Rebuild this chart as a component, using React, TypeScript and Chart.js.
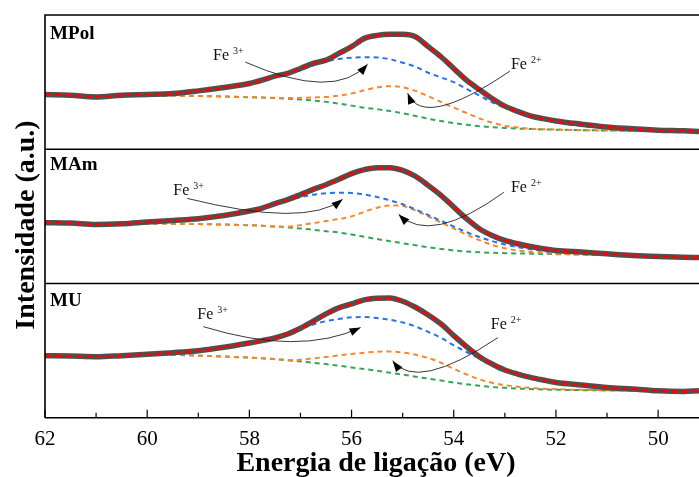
import React, { useEffect, useRef } from 'react';
import { Chart, registerables } from 'chart.js';

Chart.register(...registerables);

// Binding energy grid (eV)
const energy = [62, 61.5, 61, 60.5, 60, 59.5, 59, 58.5, 58, 57.75, 57.5, 57.25, 57, 56.75, 56.5, 56.25, 56, 55.75, 55.5, 55.25, 55, 54.75, 54.5, 54.25, 54, 53.75, 53.5, 53.25, 53, 52.75, 52.5, 52.25, 52, 51.5, 51, 50.5, 50, 49.5, 49.2];

// MPol
const mpolEnvelope = [40.8, 40.3, 39, 40.3, 40.8, 41.5, 43.5, 46, 49, 51.5, 54.5, 56.5, 60.2, 64, 66.4, 71.4, 76.4, 82.6, 84.8, 85.6, 85.6, 83.8, 76.4, 68.9, 60.2, 51.5, 44.5, 37.8, 32.1, 28.2, 24.9, 22.8, 21.1, 18.7, 16.6, 15.2, 14.2, 13.7, 13.2];
const mpolFe3 = [40.8, 40.3, 39, 40.3, 40.8, 41.5, 43.5, 46, 49, 51.5, 54.5, 56.3, 59, 62.5, 65.5, 67.3, 68.2, 68.6, 68.4, 67, 64.5, 61.5, 57, 53.5, 50, 45, 40, 35, 31, 27.5, 24.3, 22, 20.3, 17.2, 16.2, 15.2, 14.2, 13.7, 13.2];
const mpolFe2 = [40.8, 40.5, 40.3, 40.3, 40.2, 40, 39.7, 39.3, 38.8, 38.5, 38.3, 38.2, 38.3, 38.6, 39, 40, 41.5, 44, 46, 47, 46.2, 43.5, 39.5, 35.3, 31, 27, 23, 19.8, 17.5, 16.2, 15.4, 15, 14.7, 14.2, 14, 13.8, 13.6, 13.3, 13.2];
const mpolBackground = [40.8, 40.5, 40.3, 40.3, 40.2, 40, 39.7, 39.3, 38.8, 38.5, 38.1, 37.6, 37, 36.3, 35.3, 34, 32.5, 31, 29.8, 28.5, 26.8, 24.8, 22.7, 21, 19.5, 18.2, 17.2, 16.5, 15.9, 15.4, 15.1, 14.8, 14.6, 14.2, 14, 13.8, 13.6, 13.3, 13.2];

// MAm
const mamEnvelope = [45.3, 45, 44, 44.5, 45.8, 47, 48.3, 50.7, 54, 56.2, 59.5, 62.5, 66.2, 70.1, 73.6, 77.6, 81.9, 84.8, 86.3, 86.3, 84.3, 79.9, 73.1, 65.7, 57, 48.3, 40.8, 35.8, 32.1, 29.6, 27.6, 25.9, 24.6, 23.4, 22.1, 20.9, 20.1, 19.6, 19.4];
const mamFe3 = [45.3, 45, 44, 44.5, 45.8, 47, 48.3, 50.7, 54, 56.2, 59.5, 62, 64.3, 66.2, 67.2, 67.6, 67.4, 66.3, 64.4, 62, 59, 55.2, 51, 46.8, 42.4, 38.3, 34.7, 31.6, 29.1, 27.1, 25.6, 24.3, 23.3, 22.4, 21.6, 20.8, 20.1, 19.6, 19.4];
const mamFe2 = [45.3, 45, 44.3, 44.5, 44.8, 44.6, 44.3, 43.9, 43.4, 43, 42.5, 42.3, 43.5, 45, 46.5, 48, 50, 53.5, 56.5, 58.2, 57.8, 54.5, 50, 45.5, 41, 36.5, 32.3, 28.8, 26.3, 24.6, 23.5, 22.7, 22.2, 21.7, 21.2, 20.7, 20.1, 19.6, 19.4];
const mamBackground = [45.3, 45, 44.3, 44.5, 44.8, 44.6, 44.3, 43.9, 43.4, 43, 42.5, 41.8, 41, 40, 39, 38, 36.5, 34.8, 33.1, 31.5, 30, 28.5, 27, 25.8, 24.6, 23.9, 23.3, 22.9, 22.6, 22.4, 22.2, 22, 21.9, 21.6, 21.2, 20.7, 20.1, 19.6, 19.4];

// MU
const muEnvelope = [46.3, 46, 45.5, 46.3, 47.3, 48.5, 50, 52.5, 55.7, 57.5, 59.5, 62.4, 66.7, 71.9, 77.4, 81.9, 84.8, 87.8, 89, 89.3, 86.8, 82.3, 76.6, 69.9, 61.2, 53, 45.5, 40.1, 35.6, 32.6, 30.1, 28.1, 26.3, 24.4, 22.6, 21.4, 20.1, 19.6, 20.1];
const muFe3 = [46.3, 46, 45.5, 46.3, 47.3, 48.5, 50, 52.5, 55.7, 57.5, 59.5, 62.4, 66.3, 69.5, 72, 73.6, 74.9, 75, 74.3, 73, 71, 68, 64, 59.5, 54, 49, 44.3, 40, 35.3, 32.4, 30, 28, 26.2, 24.2, 22.5, 21.3, 20.1, 19.6, 20.1];
const muFe2 = [46.3, 46, 45.5, 46.3, 47, 46.8, 46.3, 45.6, 44.8, 44.3, 43.7, 42.9, 43.3, 44.3, 45.3, 46.5, 47.5, 48.5, 49.2, 49.4, 48.7, 47, 44.5, 41, 36.5, 32.3, 28.7, 26.1, 24.3, 23.1, 22.3, 21.7, 21.3, 20.8, 20.5, 20.2, 20, 19.6, 20];
const muBackground = [46.3, 46, 45.5, 46.3, 47, 46.8, 46.3, 45.6, 44.8, 44.3, 43.7, 42.9, 42, 41, 40, 38.8, 37.5, 36.3, 35, 33.6, 32.2, 30.6, 29.2, 27.8, 26.3, 25, 23.8, 22.9, 22.3, 21.8, 21.4, 21.1, 20.9, 20.6, 20.4, 20.2, 20, 19.6, 20];

const panelNames = ['MPol', 'MAm', 'MU'];
const panelOffsets = [200, 100, 0];
const panelHeight = 100;

const xTickValues = [62, 61, 60, 59, 58, 57, 56, 55, 54, 53, 52, 51, 50];
const xTickLabels = ['62', '', '60', '', '58', '', '56', '', '54', '', '52', '', '50'];

const xTitle = 'Energia de ligação (eV)';
const yTitle = 'Intensidade (a.u.)';

// annotation anchors: [text eV, text intensity, start eV, start I, ctrl eV, ctrl I, tip eV, tip I]
const fe3Notes = [
  [58.71, 66.4, 58.078, 64.9, 56.333, 35.8, 55.686, 63.4],
  [59.49, 65.7, 59.216, 63.4, 56.892, 41.4, 56.176, 62.7],
  [59.02, 73.9, 58.902, 67.9, 57.029, 45.9, 55.824, 67.2],
];
const fe2Notes = [
  [52.88, 59.7, 52.902, 58.2, 54.608, 14.2, 54.902, 41.8],
  [52.88, 67.9, 53.02, 67.9, 54.46, 28.4, 55.078, 51.5],
  [53.275, 66.4, 53.137, 59.7, 54.735, 19.0, 55.196, 42.5],
];
const panelLabelPos = [[61.9, 82.1], [61.9, 84.3], [61.9, 83.6]];

const SERIF = "'Liberation Serif', 'Times New Roman', serif";

const seriesByPanel = [
  [mpolEnvelope, mpolFe3, mpolFe2, mpolBackground],
  [mamEnvelope, mamFe3, mamFe2, mamBackground],
  [muEnvelope, muFe3, muFe2, muBackground],
];

const toPoints = (vals: number[], off: number) => energy.map((e, i) => ({ x: e, y: vals[i] + off }));

const decorPlugin = {
  id: 'decor',
  afterDraw(chart: any) {
    const ctx = chart.ctx;
    const { left, right, top, bottom } = chart.chartArea;
    const xs = chart.scales.x;
    const ys = chart.scales.y;
    ctx.save();
    // frame
    ctx.strokeStyle = '#000';
    ctx.lineWidth = 1.6;
    ctx.beginPath();
    ctx.moveTo(left, bottom);
    ctx.lineTo(left, top);
    ctx.lineTo(right, top);
    ctx.moveTo(left, bottom);
    ctx.lineTo(right, bottom);
    for (let k = 1; k < panelOffsets.length; k++) {
      const yy = ys.getPixelForValue(k * panelHeight);
      ctx.moveTo(left, yy);
      ctx.lineTo(right, yy);
    }
    ctx.stroke();
    // inward ticks
    ctx.lineWidth = 1.2;
    ctx.beginPath();
    xTickValues.forEach((v, i) => {
      const px = xs.getPixelForValue(v);
      const len = xTickLabels[i] ? 8 : 5;
      ctx.moveTo(px, bottom);
      ctx.lineTo(px, bottom - len);
    });
    ctx.stroke();

    // panel labels
    ctx.fillStyle = '#000';
    ctx.textBaseline = 'alphabetic';
    ctx.textAlign = 'left';
    ctx.font = `bold 19px ${SERIF}`;
    panelNames.forEach((n, p) => {
      const [e, v] = panelLabelPos[p];
      ctx.fillText(n, xs.getPixelForValue(e), ys.getPixelForValue(v + panelOffsets[p]));
    });

    // annotations
    const drawNote = (a: number[], off: number, sup: string) => {
      const tx = xs.getPixelForValue(a[0]);
      const ty = ys.getPixelForValue(a[1] + off);
      ctx.font = `16px ${SERIF}`;
      ctx.fillStyle = '#111';
      ctx.fillText('Fe', tx, ty);
      const w = ctx.measureText('Fe ').width;
      ctx.font = `10px ${SERIF}`;
      ctx.fillText(sup, tx + w, ty - 6);
      const p0x = xs.getPixelForValue(a[2]), p0y = ys.getPixelForValue(a[3] + off);
      const cx = xs.getPixelForValue(a[4]), cy = ys.getPixelForValue(a[5] + off);
      const p2x = xs.getPixelForValue(a[6]), p2y = ys.getPixelForValue(a[7] + off);
      ctx.strokeStyle = '#222';
      ctx.lineWidth = 0.9;
      ctx.beginPath();
      ctx.moveTo(p0x, p0y);
      ctx.quadraticCurveTo(cx, cy, p2x, p2y);
      ctx.stroke();
      const ang = Math.atan2(p2y - cy, p2x - cx);
      const L = 11, W = 4;
      const bx = p2x - L * Math.cos(ang), by = p2y - L * Math.sin(ang);
      ctx.fillStyle = '#000';
      ctx.beginPath();
      ctx.moveTo(p2x, p2y);
      ctx.lineTo(bx + W * Math.sin(ang), by - W * Math.cos(ang));
      ctx.lineTo(bx - W * Math.sin(ang), by + W * Math.cos(ang));
      ctx.closePath();
      ctx.fill();
    };
    fe3Notes.forEach((a, p) => drawNote(a, panelOffsets[p], '3+'));
    fe2Notes.forEach((a, p) => drawNote(a, panelOffsets[p], '2+'));

    // axis titles
    ctx.fillStyle = '#000';
    ctx.font = `bold 28px ${SERIF}`;
    ctx.textAlign = 'center';
    ctx.textBaseline = 'alphabetic';
    ctx.fillText(xTitle, 376, 471);
    ctx.save();
    ctx.translate(34, 225);
    ctx.rotate(-Math.PI / 2);
    ctx.fillText(yTitle, 0, 0);
    ctx.restore();
    ctx.restore();
  },
};

export default function App() {
  const ref = useRef<HTMLCanvasElement>(null);
  useEffect(() => {
    document.body.style.margin = '0';
    const datasets: any[] = [];
    seriesByPanel.forEach((s, p) => {
      const off = panelOffsets[p];
      const base = { pointRadius: 0, borderJoinStyle: 'round', cubicInterpolationMode: 'monotone', fill: false };
      datasets.push({ ...base, label: `${panelNames[p]} fit`, data: toPoints(s[0], off), borderColor: '#ff0000', borderWidth: 2.5, borderDash: [6, 4], order: 0 });
      datasets.push({ ...base, label: `${panelNames[p]} exp`, data: toPoints(s[0], off), borderColor: '#505050', borderWidth: 5.5, order: 1 });
      datasets.push({ ...base, label: `${panelNames[p]} Fe3+`, data: toPoints(s[1], off), borderColor: '#2a72e6', borderWidth: 2, borderDash: [5, 4], order: 2 });
      datasets.push({ ...base, label: `${panelNames[p]} Fe2+`, data: toPoints(s[2], off), borderColor: '#f5882e', borderWidth: 2, borderDash: [5, 4], order: 3 });
      datasets.push({ ...base, label: `${panelNames[p]} BG`, data: toPoints(s[3], off), borderColor: '#34a55a', borderWidth: 2, borderDash: [5, 4], order: 4 });
    });
    const chart = new Chart(ref.current as HTMLCanvasElement, {
      type: 'line',
      data: { datasets },
      options: {
        animation: false,
        responsive: true,
        maintainAspectRatio: false,
        layout: { padding: { left: 45, top: 15, right: 0, bottom: 16 } },
        plugins: { legend: { display: false }, tooltip: { enabled: false } },
        scales: {
          x: {
            type: 'linear',
            reverse: true,
            min: 49.2,
            max: 62,
            afterBuildTicks: (s: any) => {
              s.ticks = xTickValues.map((v) => ({ value: v }));
            },
            ticks: {
              autoSkip: false,
              maxRotation: 0,
              padding: 9,
              color: '#000',
              font: { family: SERIF, size: 21 },
              callback: (v: any) => {
                const i = xTickValues.indexOf(Number(v));
                return i >= 0 ? xTickLabels[i] : '';
              },
            },
            grid: { display: false, drawTicks: false },
            border: { display: false },
          },
          y: { display: false, min: 0, max: 300 },
        },
      } as any,
      plugins: [decorPlugin],
    });
    return () => chart.destroy();
  }, []);
  return (
    <div style={{ position: 'fixed', left: 0, top: 0, width: 699, height: 477, background: '#fff' }}>
      <canvas ref={ref} />
    </div>
  );
}
